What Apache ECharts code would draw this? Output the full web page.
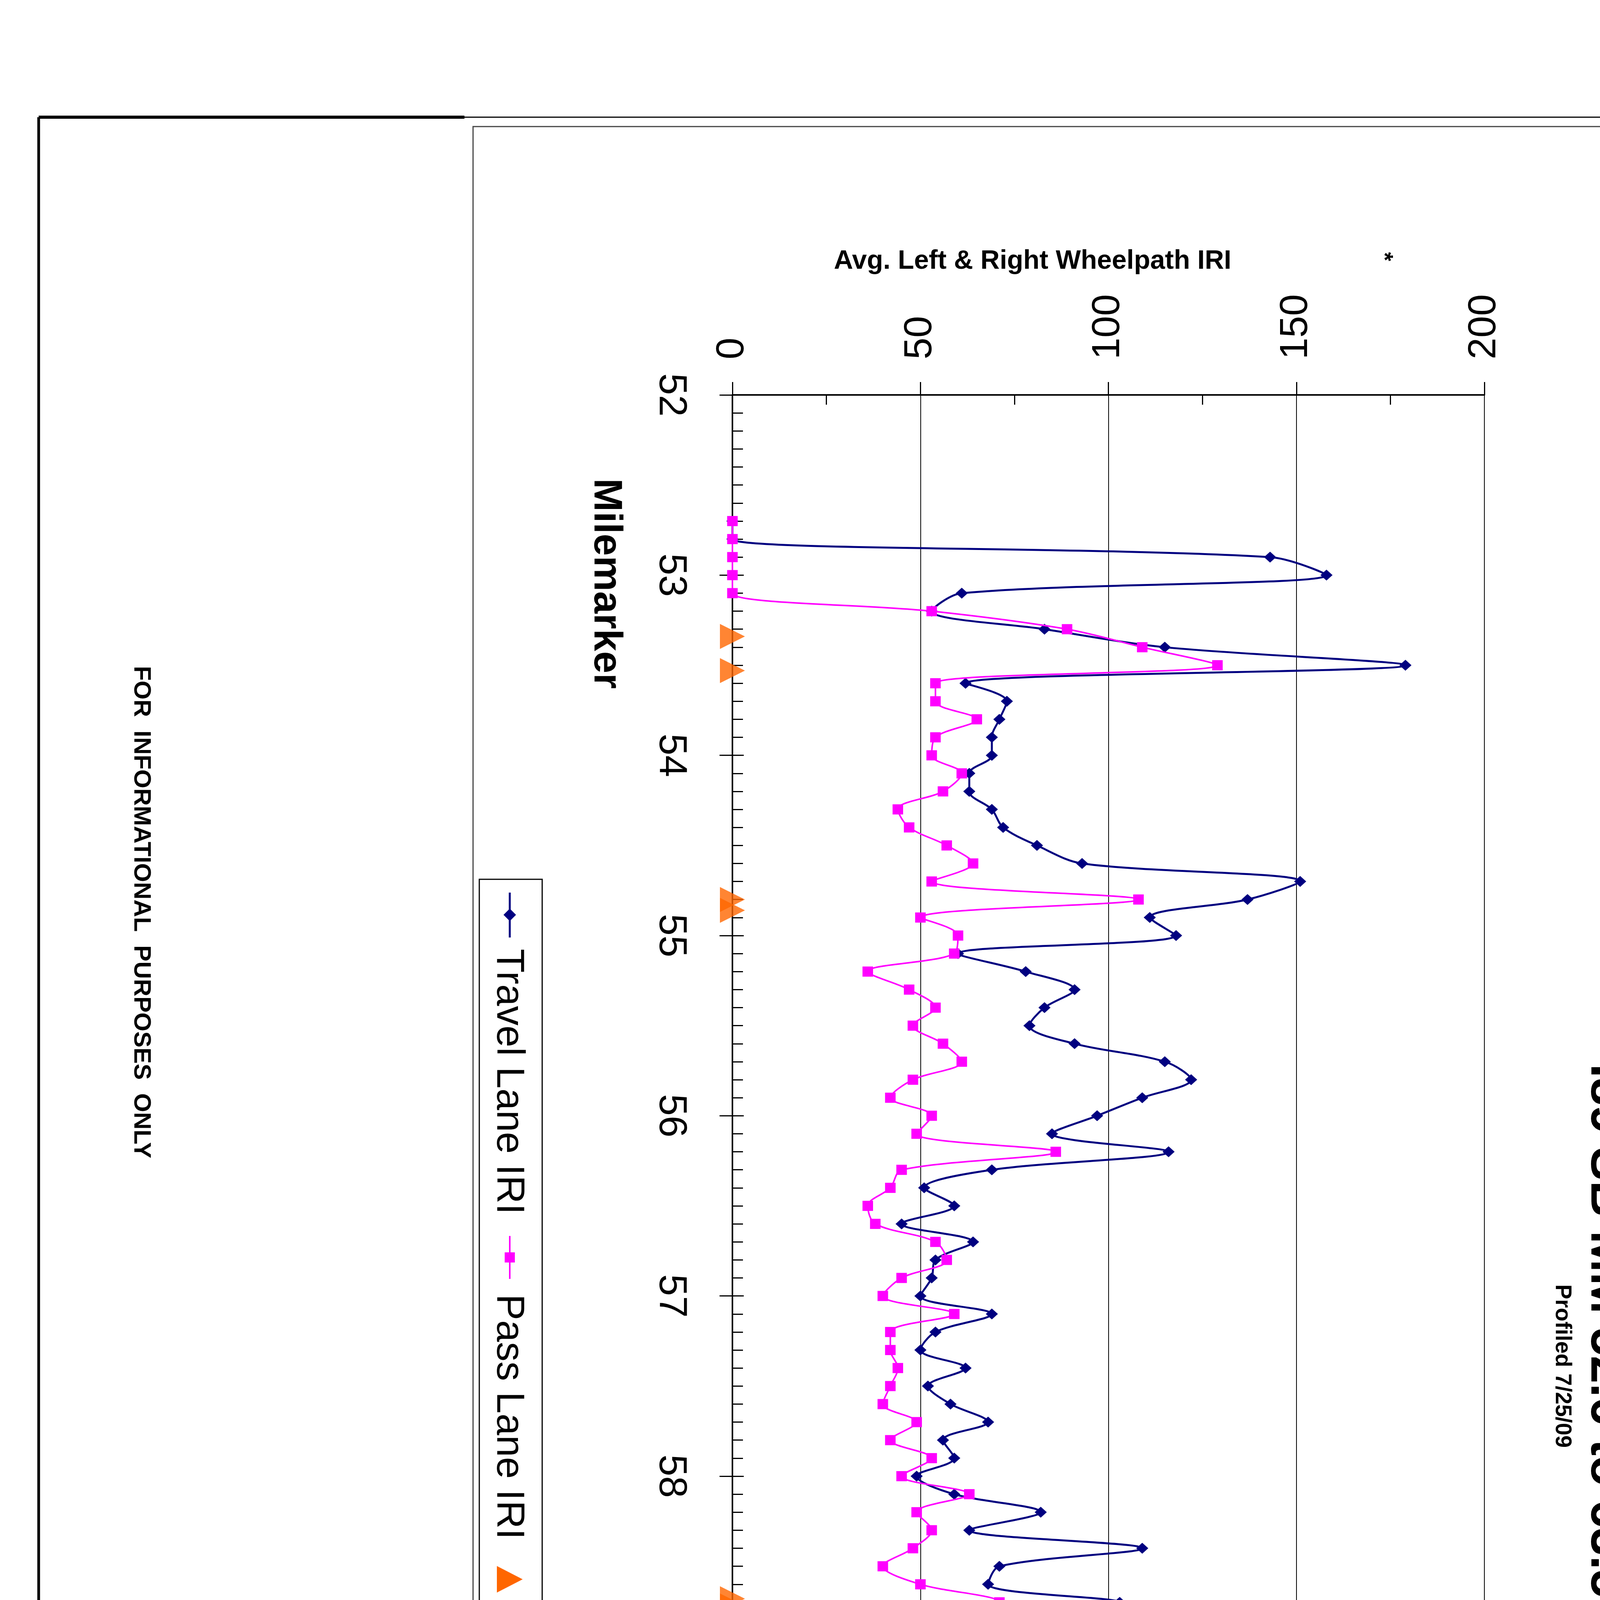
<!DOCTYPE html>
<html>
<head>
<meta charset="utf-8">
<script src="https://cdn.jsdelivr.net/npm/echarts@6/dist/echarts.min.js"></script>
<style>
html,body{margin:0;padding:0;background:#fff;width:4400px;height:6800px;}
#chart{width:4400px;height:6800px;background:#fff;}
</style>
</head>
<body>
<div id="chart"></div>
<script>
// ---- data ----
const milemarkers = [
  52.7, 52.8, 52.9,
  53.0, 53.1, 53.2, 53.3, 53.4, 53.5, 53.6, 53.7, 53.8, 53.9,
  54.0, 54.1, 54.2, 54.3, 54.4, 54.5, 54.6, 54.7, 54.8, 54.9,
  55.0, 55.1, 55.2, 55.3, 55.4, 55.5, 55.6, 55.7, 55.8, 55.9,
  56.0, 56.1, 56.2, 56.3, 56.4, 56.5, 56.6, 56.7, 56.8, 56.9,
  57.0, 57.1, 57.2, 57.3, 57.4, 57.5, 57.6, 57.7, 57.8, 57.9,
  58.0, 58.1, 58.2, 58.3, 58.4, 58.5, 58.6, 58.7, 58.8, 58.9,
  59.0, 59.1, 59.2, 59.3, 59.4, 59.5, 59.6, 59.7, 59.8, 59.9,
  60.0, 60.1, 60.2, 60.3, 60.4, 60.5, 60.6, 60.7, 60.8, 60.9,
  61.0, 61.1, 61.2, 61.3, 61.4, 61.5, 61.6, 61.7, 61.8, 61.9,
  62.0, 62.1, 62.2, 62.3, 62.4, 62.5, 62.6, 62.7, 62.8, 62.9,
  63.0, 63.1, 63.2, 63.3, 63.4, 63.5
];
const travelLaneIRI = [
  0, 0, 143,
  158, 61, 53, 83, 115, 179, 62, 73, 71, 69,
  69, 63, 63, 69, 72, 81, 93, 151, 137, 111,
  118, 60, 78, 91, 83, 79, 91, 115, 122, 109,
  97, 85, 116, 69, 51, 59, 45, 64, 54, 53,
  50, 69, 54, 50, 62, 52, 58, 68, 56, 59,
  49, 59, 82, 63, 109, 71, 68, 103, 61, 66,
  72, 96, 70, 58, 62, 72, 57, 67, 51, 65,
  65, 72, 69, 69, 81, 72, 76, 72, 52, 44,
  49, 51, 57, 49, 53, 43, 67, 67, 70, 67,
  56, 48, 52, 49, 57, 57, 44, 48, 46, 53,
  52, 54, 67, 69, 74, 96
];
const passLaneIRI = [
  0, 0, 0,
  0, 0, 53, 89, 109, 129, 54, 54, 65, 54,
  53, 61, 56, 44, 47, 57, 64, 53, 108, 50,
  60, 59, 36, 47, 54, 48, 56, 61, 48, 42,
  53, 49, 86, 45, 42, 36, 38, 54, 57, 45,
  40, 59, 42, 42, 44, 42, 40, 49, 42, 53,
  45, 63, 49, 53, 48, 40, 50, 71, 57, 44,
  49, 54, 46, 38, 45, 53, 47, 51, 42, 44,
  55, 49, 56, 48, 44, 46, 48, 46, 56, 48,
  57, 42, 47, 50, 48, 48, 55, 54, 53, 44,
  42, 42, 44, 45, 57, 55, 54, 51, 49, 55,
  55, 50, 50, 47, 49, 78
];
const bridgeLimits = [53.34, 53.53, 54.80, 54.86, 58.68, 58.72, 63.47, 63.55];
const milemarkerTicks = [52, 53, 54, 55, 56, 57, 58, 59, 60, 61, 62, 63, 64];
const iriTicks = [0, 50, 100, 150, 200];
const seriesNames = ['Travel Lane IRI', 'Pass Lane IRI', 'Bridge Limits'];
const seriesColors = ['#000080', '#FF00FF', '#FF6600'];

// ---- chart ----
const FONT = "'Liberation Sans', Arial, Helvetica, sans-serif";
const chart = echarts.init(document.getElementById('chart'), null, {renderer: 'canvas', width: 4400, height: 6800, devicePixelRatio: 1});

// Page furniture is laid out in "sheet" coordinates (the sheet is printed sideways):
// a group rotated 90deg clockwise maps sheet (sx, sy) to page (4400 - sy, sx).
function gLine(x1, y1, x2, y2, w, c) {
  return {type: 'line', shape: {x1: x1, y1: y1, x2: x2, y2: y2}, style: {stroke: c || '#000', lineWidth: w}, silent: true};
}
function gText(t, x, y, size, weight, align) {
  return {type: 'text', x: x, y: y, silent: true,
    style: {text: t, fill: '#000', fontSize: size, fontWeight: weight || 'normal', fontFamily: FONT,
      align: align || 'left', verticalAlign: 'middle'}};
}

const sheet = [
  // outer frame
  gLine(300, 98, 6705, 98, 4),
  gLine(6705, 98, 6705, 4301, 5),
  gLine(300, 4301, 6705, 4301, 7),
  gLine(300, 98, 300, 3211, 3),
  gLine(300, 3211, 300, 4301, 8),
  // chart box
  {type: 'rect', shape: {x: 324, y: 120, width: 6336, height: 3069}, style: {fill: 'none', stroke: '#444', lineWidth: 3}, silent: true},
  // title
  gText('I89 SB MM 52.6 to 63.5 IRI', 3506, 291, 128, 'bold', 'center'),
  gText('Profiled 7/25/09', 3497, 401, 57, 'bold', 'center'),
  gText('*', 657, 858, 60, 'bold', 'center'),
  // legend
  {type: 'rect', shape: {x: 2251, y: 3012, width: 2502, height: 161}, style: {fill: '#fff', stroke: '#000', lineWidth: 3}, silent: true},
  gLine(2285, 3095, 2400, 3095, 5, seriesColors[0]),
  {type: 'polygon', shape: {points: [[2342, 3079], [2358, 3095], [2342, 3111], [2326, 3095]]}, style: {fill: seriesColors[0]}, silent: true},
  gText(seriesNames[0], 2429, 3099, 100),
  gLine(3164, 3095, 3274, 3095, 4, seriesColors[1]),
  {type: 'rect', shape: {x: 3206, y: 3082, width: 26, height: 26}, style: {fill: seriesColors[1]}, silent: true},
  gText(seriesNames[1], 3313, 3099, 100),
  {type: 'polygon', shape: {points: [[4043, 3062], [4077, 3128], [4009, 3128]]}, style: {fill: seriesColors[2]}, silent: true},
  gText(seriesNames[2], 4141, 3099, 100),
  // title block
  gLine(4435, 3897, 4435, 4301, 6),
  gLine(4435, 3897, 6705, 3897, 6),
  gLine(5100, 3897, 5100, 4301, 6),
  gLine(5100, 4065, 6705, 4065, 6),
  gText('ROUGHNESS', 4740, 3953, 72, 'bold', 'center'),
  gText('DATA', 4740, 4048, 72, 'bold', 'center'),
  gText('INFORMATION', 4743, 4143, 72, 'bold', 'center'),
  gText('SB  LANE  SHEET', 4773, 4238, 72, 'bold', 'center'),
  gText('PROJECT NAME:', 5145, 3941, 38),
  gText('BERLIN  -  WATERBURY', 5519, 3942, 58),
  gText('PROJECT NUMBER:', 5145, 4016, 38),
  gText('IM  SURF  (20)', 5677, 4015, 60),
  gText('FILE NAME: /pave/09a382/p09a382.dgn', 5145, 4107, 42),
  gText('PLOT DATE: 08-JUN-2010', 6082, 4107, 40),
  gText('PROJECT LEADER:  MIKE FOWLER', 5145, 4158, 40),
  gText('DRAWN BY: WILDER', 6082, 4158, 40),
  gText('DESIGNED BY: WILDER', 5145, 4210, 40),
  gText('CHECKED BY:  PAVT MGMT', 6082, 4210, 40),
  gText('IPARM FILE NAME: p09a382.igl', 5145, 4261, 40),
  gText('SHEET    19    OF    63', 6082, 4261, 40),
  // side note
  gText('FOR  INFORMATIONAL  PURPOSES  ONLY', 2335, 4039, 62, 'bold', 'center')
];

const option = {
  animation: false,
  backgroundColor: '#fff',
  textStyle: {fontFamily: FONT},
  grid: {
    left: 1875, top: 1011, width: 1925, height: 5536,
    show: true, borderColor: '#000', borderWidth: 2, backgroundColor: 'transparent', containLabel: false
  },
  xAxis: {
    type: 'value', position: 'top',
    min: iriTicks[0], max: iriTicks[iriTicks.length - 1], interval: iriTicks[1] - iriTicks[0],
    name: 'Avg. Left & Right Wheelpath IRI', nameLocation: 'middle', nameGap: 308,
    nameTextStyle: {fontSize: 68, fontWeight: 'bold', color: '#000', fontFamily: FONT, padding: [0, 388, 0, 0]},
    axisLine: {show: true, onZero: false, lineStyle: {color: '#000', width: 4}},
    axisTick: {show: true, length: 33, lineStyle: {color: '#000', width: 3}},
    minorTick: {show: true, splitNumber: 2, length: -25, lineStyle: {color: '#000', width: 3}},
    axisLabel: {fontSize: 100, color: '#000', margin: 91, rotate: -90, fontFamily: FONT},
    splitLine: {show: true, lineStyle: {color: '#000', width: 2, type: 'solid'}}
  },
  yAxis: [
    {
      type: 'value', position: 'left', inverse: true,
      min: milemarkerTicks[0], max: milemarkerTicks[milemarkerTicks.length - 1],
      interval: milemarkerTicks[1] - milemarkerTicks[0],
      name: 'Milemarker', nameLocation: 'middle', nameGap: 274, nameRotate: -90,
      nameTextStyle: {fontSize: 102, fontWeight: 'bold', color: '#000', fontFamily: FONT, padding: [0, 4570, 0, 0]},
      axisLine: {show: true, onZero: false, lineStyle: {color: '#000', width: 4}},
      axisTick: {show: true, length: 33, lineStyle: {color: '#000', width: 3}},
      minorTick: {show: true, splitNumber: 10, length: -27, lineStyle: {color: '#000', width: 3}},
      axisLabel: {fontSize: 100, color: '#000', margin: 108, rotate: -90, fontFamily: FONT},
      splitLine: {show: false}
    },
    {
      type: 'value', position: 'left', inverse: true,
      min: milemarkerTicks[0], max: milemarkerTicks[milemarkerTicks.length - 1],
      interval: milemarkerTicks[1] - milemarkerTicks[0],
      axisLine: {show: false, onZero: false},
      axisTick: {show: true, inside: true, length: 29, lineStyle: {color: '#000', width: 3}},
      axisLabel: {show: false},
      splitLine: {show: false}
    }
  ],
  graphic: [{type: 'group', x: 4400, y: 0, rotation: -Math.PI / 2, silent: true, children: sheet}],
  series: [
    {
      name: seriesNames[0], type: 'line', yAxisIndex: 0,
      data: milemarkers.map((m, i) => [travelLaneIRI[i], m]),
      smooth: 0.33, showAllSymbol: true, symbol: 'diamond', symbolSize: [31, 28],
      lineStyle: {color: seriesColors[0], width: 5}, itemStyle: {color: seriesColors[0]}, z: 3
    },
    {
      name: seriesNames[1], type: 'line', yAxisIndex: 0,
      data: milemarkers.map((m, i) => [passLaneIRI[i], m]),
      smooth: 0.33, showAllSymbol: true, symbol: 'rect', symbolSize: [27, 26],
      lineStyle: {color: seriesColors[1], width: 4}, itemStyle: {color: seriesColors[1]}, z: 4
    },
    {
      name: seriesNames[2], type: 'scatter', yAxisIndex: 0,
      data: bridgeLimits.map(m => [0, m]),
      symbol: 'triangle', symbolSize: 64, symbolRotate: -90, clip: false,
      itemStyle: {color: seriesColors[2]}, z: 5
    }
  ]
};
chart.setOption(option);
</script>
</body>
</html>
